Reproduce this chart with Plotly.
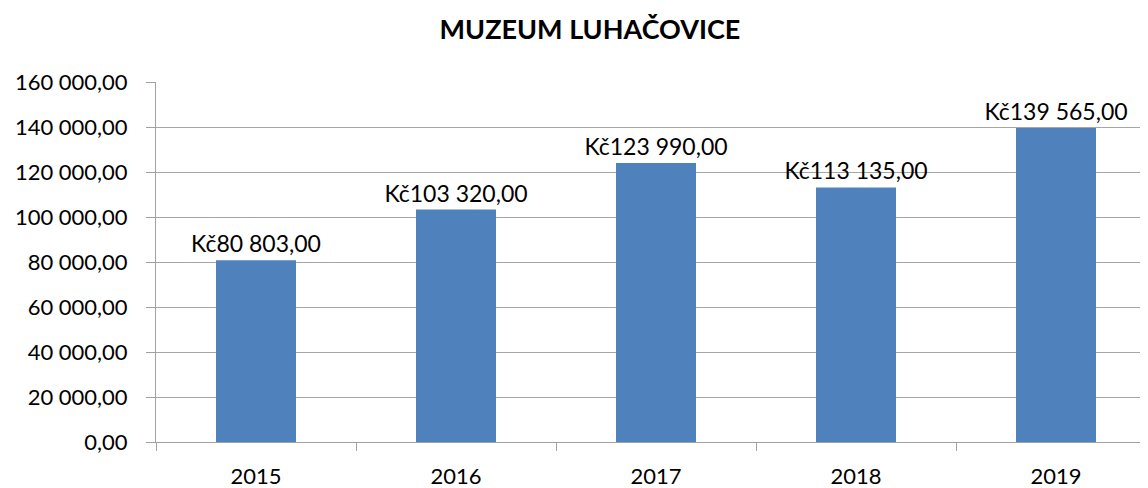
import plotly.graph_objects as go

years = ["2015", "2016", "2017", "2018", "2019"]
values = [80803, 103320, 123990, 113135, 139565]
title_text = "MUZEUM LUHAČOVICE"

FONT = "Lato"

fig = go.Figure(go.Bar(
    x=years, y=values,
    marker=dict(color="#4F81BD", line=dict(width=0)),
    texttemplate="Kč%{y:,.2f}",
    textposition="outside",
    constraintext="none",
    textfont=dict(family=FONT, size=23, color="#000000"),
    cliponaxis=False,
))

fig.update_layout(
    width=1148, height=488,
    margin=dict(l=148, r=0, t=74, b=54, autoexpand=False),
    paper_bgcolor="white", plot_bgcolor="white",
    separators=", ",
    showlegend=False,
    bargap=0.6,
    title=dict(text="<b>" + title_text + "</b>", x=(590 - 8) / 1148, xanchor="center",
               y=1 - 22 / 488, yanchor="middle",
               font=dict(family=FONT, size=27, color="#000000")),
    font=dict(family=FONT, size=22, color="#000000"),
)

fig.update_xaxes(
    type="category", range=[-0.5, 4.5],
    showline=True, linecolor="#A0A0A0", linewidth=1,
    ticks="outside", tickson="boundaries", ticklen=8, tickcolor="#A0A0A0",
    showgrid=False,
    ticklabelstandoff=15,
    tickfont=dict(family=FONT, size=22, color="#000000"),
)
fig.update_yaxes(
    range=[0, 160000], dtick=20000, tickformat=",.2f",
    showline=True, linecolor="#A0A0A0", linewidth=1,
    ticks="outside", ticklen=9, tickcolor="#A0A0A0",
    showgrid=True, gridcolor="#A6A6A6", gridwidth=1,
    zeroline=False,
    ticklabelstandoff=14,
    tickfont=dict(family=FONT, size=22, color="#000000"),
)

fig.write_html("out.html")
